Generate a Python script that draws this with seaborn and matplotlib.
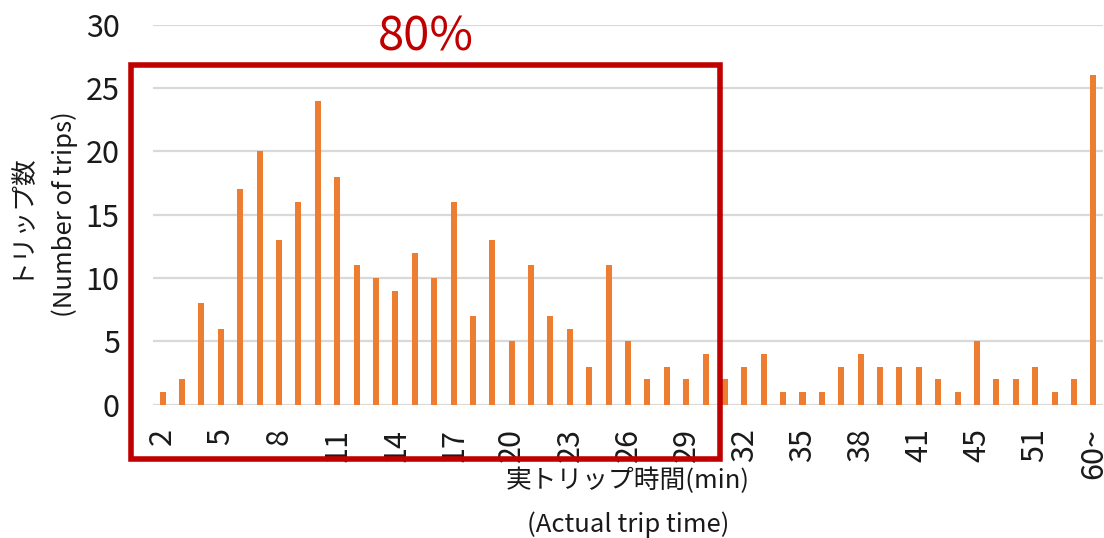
import matplotlib
matplotlib.use("Agg")
import matplotlib.pyplot as plt
import seaborn as sns
import pandas as pd
from matplotlib.patches import Rectangle

# Trip-time bins (minutes) and number of trips in each bin
trip_minutes = ["2", "3", "4", "5", "6", "7", "8", "9", "10", "11",
                "12", "13", "14", "15", "16", "17", "18", "19", "20", "21",
                "22", "23", "24", "25", "26", "27", "28", "29", "30", "31",
                "32", "33", "34", "35", "36", "37", "38", "39", "40", "41",
                "42", "43", "45", "47", "49", "51", "54", "57", "60~"]
trip_counts = [1, 2, 8, 6, 17, 20, 13, 16, 24, 18,
               11, 10, 9, 12, 10, 16, 7, 13, 5, 11,
               7, 6, 3, 11, 5, 2, 3, 2, 4, 2,
               3, 4, 1, 1, 1, 3, 4, 3, 3, 3,
               2, 1, 5, 2, 2, 3, 1, 2, 26]

# Bins up to this index make up 80% of all trips
share_label = "80%"
share_last_index = 28

y_ticks = [0, 5, 10, 15, 20, 25, 30]

BAR = "#ED7D31"
RED = "#C00000"
GRID = "#D9D9D9"
TEXT = "#1a1a1a"

sns.set_style("white")
plt.rcParams["font.family"] = ["Noto Sans CJK JP", "DejaVu Sans"]

df = pd.DataFrame({"minutes": trip_minutes, "trips": trip_counts})

fig = plt.figure(figsize=(11.04, 5.38), dpi=100)
ax = fig.add_axes([0.1386, 0.2481, 0.8605, 0.706])

sns.barplot(data=df, x="minutes", y="trips", order=trip_minutes,
            color=BAR, saturation=1, width=0.31, linewidth=0, ax=ax)

ax.set_xlim(-0.5, len(trip_minutes) - 0.5)
ax.set_ylim(0, 30)
ax.set_yticks(y_ticks)
ax.set_yticklabels([str(v) for v in y_ticks], fontsize=22, color=TEXT)

shown = list(range(0, len(trip_minutes), 3))
ax.set_xticks(shown)
ax.set_xticklabels([trip_minutes[i] for i in shown], rotation=90,
                   fontsize=22, color=TEXT, va="top", ha="center")

ax.grid(axis="y", color=GRID, linewidth=1.6)
ax.grid(axis="x", visible=False)
ax.set_axisbelow(True)
for s in ax.spines.values():
    s.set_visible(False)
ax.tick_params(axis="y", length=0, pad=24)
ax.tick_params(axis="x", length=0, pad=17)

ax.set_xlabel("実トリップ時間(min)\n(Actual trip time)", fontsize=18.5,
              color=TEXT, linespacing=1.85)
ax.xaxis.set_label_coords(0.5, -0.259)
ax.xaxis.label.set_va("center")

ax.set_ylabel("トリップ数\n(Number of trips)", fontsize=18.5,
              color=TEXT, linespacing=2.0)
ax.yaxis.set_label_coords(-0.117, 0.5)
ax.yaxis.label.set_va("center")

# Highlight box around the bins covering 80% of trips
x0, x1 = -1.63, share_last_index + 0.75
y0, y1 = -4.27, 26.8
ax.add_patch(Rectangle((x0, y0), x1 - x0, y1 - y0, fill=False,
                       edgecolor=RED, linewidth=4, joinstyle="miter",
                       clip_on=False, zorder=5))
ax.text((x0 + x1) / 2, 29.0, share_label, color=RED, fontsize=34,
        ha="center", va="center", clip_on=False)

fig.savefig("out.png", dpi=100)
